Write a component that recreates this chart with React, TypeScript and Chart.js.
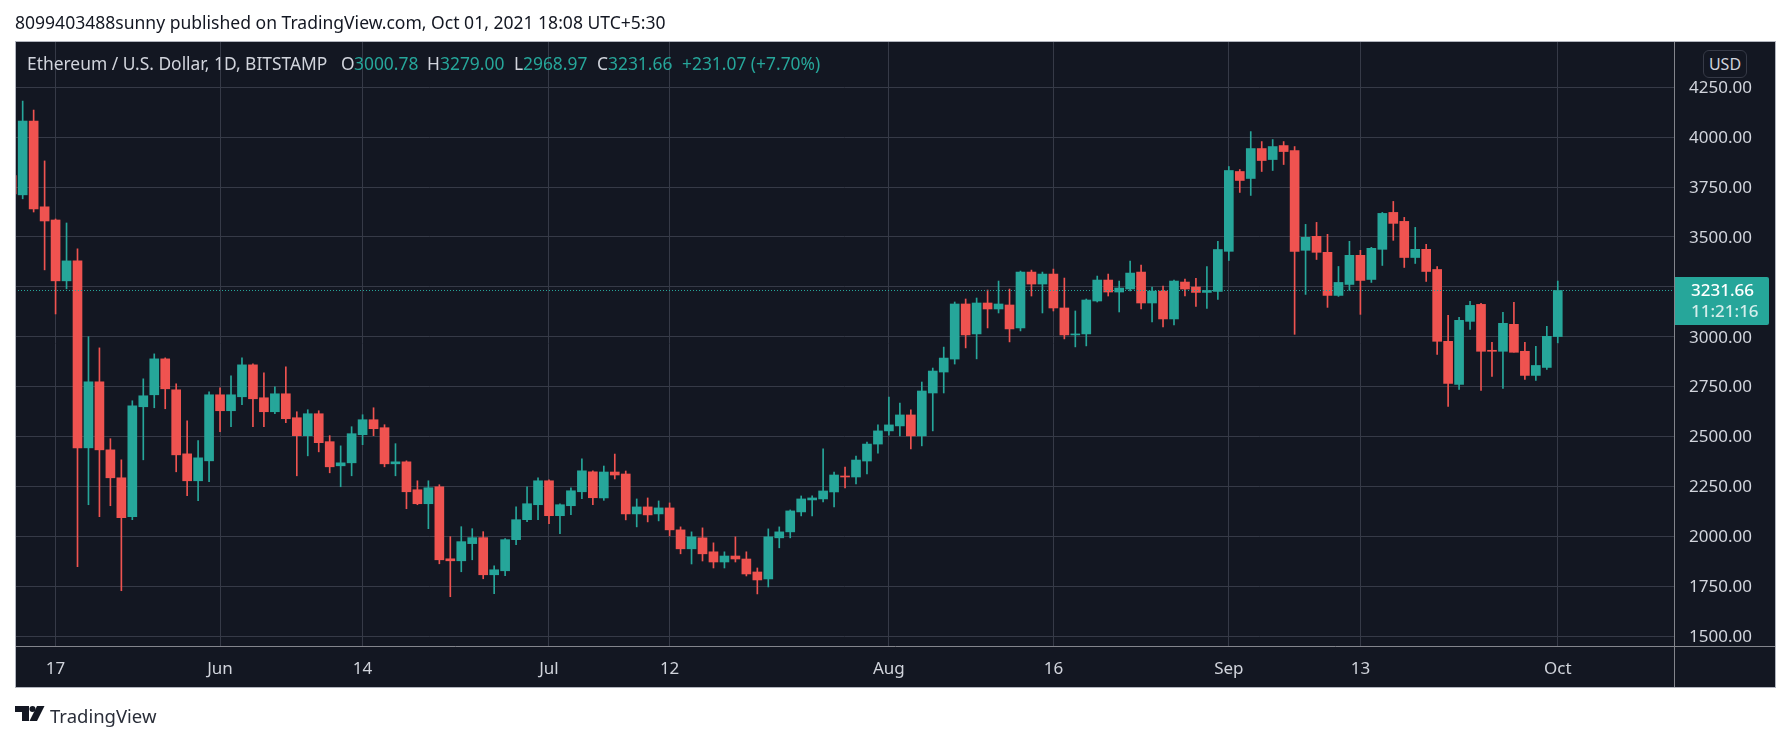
import React, { useEffect, useRef } from 'react'
import { Chart, registerables } from 'chart.js'
Chart.register(...registerables)

// days counted from May 17 2021 (first candle is May 13)
const firstDay = -4
const tickDays = [0, 15, 28, 45, 56, 76, 91, 107, 119, 137]
const tickLabels = ['17', 'Jun', '14', 'Jul', '12', 'Aug', '16', 'Sep', '13', 'Oct']
const priceTicks = [1500, 1750, 2000, 2250, 2500, 2750, 3000, 3250, 3500, 3750, 4000, 4250]

const opens = [
  3807, 3711, 4081, 3651, 3585, 3280, 3380, 2443, 2774, 2433, 2293, 2098, 2649, 2709, 2889, 2734, 2413, 2278, 2378,
  2709, 2629, 2699, 2859, 2694, 2624, 2714, 2594, 2504, 2614, 2474, 2353, 2368, 2509, 2584, 2544, 2363, 2373, 2233, 2163, 2248, 1887, 1877, 1963, 1993, 1807, 1827, 1983, 2083, 2158,
  2278, 2103, 2153, 2223, 2323, 2192, 2322, 2312, 2112, 2147, 2112, 2142, 2032, 1937, 1992, 1922, 1871, 1901, 1886, 1821, 1786, 1992, 2022, 2122, 2182, 2187, 2222, 2302, 2297, 2377, 2462,
  2528, 2553, 2608, 2503, 2718, 2823, 2888, 3164, 3014, 3169, 3139, 3159, 3044, 3324, 3264, 3314, 3144, 3009, 3014, 3179, 3284, 3224, 3239, 3324, 3169, 3229, 3089, 3274, 3249, 3222, 3227,
  3428, 3828, 3793, 3943, 3888, 3958, 3933, 3433, 3503, 3423, 3207, 3262, 3408, 3287, 3438, 3623, 3578, 3397, 3438, 3337, 2977, 2761, 3077, 3162, 2932, 2927, 3062, 2927, 2806, 2846,
  3000.78,
]
const highs = [
  3830, 4181, 4136, 3881, 3590, 3570, 3440, 3000, 2944, 2489, 2383, 2679, 2789, 2914, 2894, 2764, 2579, 2479, 2724,
  2744, 2804, 2894, 2864, 2819, 2749, 2849, 2624, 2634, 2629, 2504, 2453, 2549, 2609, 2644, 2559, 2464, 2378, 2278, 2278, 2258, 1998, 2048, 2038, 2023, 1852, 1988, 2148, 2248, 2293,
  2283, 2163, 2243, 2388, 2328, 2352, 2412, 2327, 2187, 2192, 2177, 2167, 2047, 2022, 2042, 1967, 1922, 1997, 1922, 1841, 2037, 2047, 2132, 2202, 2202, 2438, 2322, 2347, 2402, 2472, 2558,
  2698, 2668, 2633, 2773, 2843, 2948, 3174, 3189, 3194, 3234, 3279, 3239, 3329, 3334, 3324, 3339, 3294, 3129, 3189, 3304, 3314, 3279, 3379, 3359, 3249, 3254, 3284, 3289, 3292, 3352, 3478,
  3853, 3838, 4028, 3978, 3988, 3978, 3953, 3563, 3573, 3513, 3352, 3478, 3433, 3448, 3623, 3678, 3598, 3548, 3463, 3352, 3107, 3097, 3177, 3167, 2972, 3122, 3172, 2972, 2952, 3052,
  3279,
]
const lows = [
  3690, 3691, 3625, 3335, 3114, 3240, 1847, 2158, 2098, 2153, 1727, 2083, 2383, 2644, 2639, 2323, 2203, 2178, 2273,
  2524, 2549, 2659, 2549, 2549, 2614, 2569, 2303, 2403, 2423, 2318, 2248, 2303, 2459, 2504, 2348, 2303, 2138, 2158, 2038, 1862, 1697, 1822, 1882, 1787, 1712, 1802, 1958, 2073, 2083,
  2063, 2013, 2108, 2188, 2158, 2180, 2287, 2082, 2047, 2072, 2077, 2002, 1912, 1861, 1876, 1841, 1841, 1871, 1801, 1711, 1746, 1942, 1992, 2102, 2102, 2172, 2147, 2242, 2262, 2312, 2417,
  2506, 2503, 2438, 2453, 2528, 2718, 2863, 2944, 2889, 3044, 3119, 2974, 3029, 3204, 3119, 3129, 2989, 2949, 2954, 3174, 3204, 3124, 3229, 3139, 3074, 3049, 3059, 3204, 3152, 3142, 3187,
  3382, 3723, 3708, 3828, 3833, 3863, 3012, 3212, 3387, 3147, 3202, 3232, 3112, 3272, 3357, 3483, 3347, 3367, 3277, 2911, 2651, 2736, 3037, 2731, 2801, 2741, 2922, 2786, 2781, 2836,
  2968.97,
]
const closes = [
  3716, 4081, 3640, 3580, 3280, 3380, 2443, 2774, 2433, 2293, 2093, 2654, 2704, 2889, 2739, 2408, 2278, 2393, 2709,
  2629, 2709, 2859, 2689, 2624, 2714, 2589, 2504, 2614, 2469, 2348, 2368, 2514, 2584, 2539, 2363, 2373, 2223, 2163, 2243, 1882, 1877, 1973, 1993, 1807, 1832, 1983, 2083, 2163, 2278,
  2103, 2158, 2228, 2328, 2193, 2322, 2307, 2112, 2147, 2107, 2142, 2032, 1937, 1997, 1912, 1871, 1901, 1886, 1811, 1781, 1997, 2022, 2127, 2187, 2192, 2227, 2307, 2297, 2382, 2462, 2528,
  2558, 2608, 2503, 2728, 2828, 2893, 3164, 3009, 3169, 3139, 3164, 3039, 3324, 3264, 3314, 3144, 3009, 3014, 3184, 3284, 3224, 3244, 3319, 3169, 3229, 3089, 3279, 3239, 3222, 3232, 3437,
  3833, 3783, 3943, 3883, 3953, 3928, 3428, 3498, 3423, 3207, 3272, 3408, 3282, 3443, 3618, 3568, 3397, 3438, 3327, 2977, 2766, 3082, 3157, 2927, 2927, 3067, 2922, 2806, 2856, 3002,
  3231.66,
]

const upColor = '#26a69a'
const downColor = '#ef5350'
const panelColor = '#131722'
const gridColor = '#363a47'
const textColor = '#d1d4dc'
const font = '"Noto Sans", sans-serif'

const xs = opens.map((_, i) => firstDay + i)
const candleColors = opens.map((o, i) => (closes[i] >= o ? upColor : downColor))
const lastClose = closes[closes.length - 1]

const panelPlugin = {
  id: 'panel',
  beforeDraw(chart: any) {
    const { ctx } = chart
    ctx.save()
    ctx.fillStyle = panelColor
    ctx.fillRect(15, 41, 1761, 646)
    ctx.restore()
  },
  afterDraw(chart: any) {
    const { ctx, chartArea, scales } = chart
    ctx.save()
    const y = Math.round(scales.y.getPixelForValue(lastClose)) + 0.5

    ctx.strokeStyle = upColor
    ctx.lineWidth = 1
    ctx.setLineDash([1, 2])
    ctx.beginPath()
    ctx.moveTo(chartArea.left, y)
    ctx.lineTo(chartArea.right, y)
    ctx.stroke()
    ctx.setLineDash([])

    // axis lines and the outer frame
    ctx.strokeStyle = '#83858c'
    ctx.beginPath()
    ctx.moveTo(chartArea.right + 0.5, 41)
    ctx.lineTo(chartArea.right + 0.5, 687)
    ctx.moveTo(15, chartArea.bottom + 0.5)
    ctx.lineTo(1776, chartArea.bottom + 0.5)
    ctx.stroke()
    ctx.strokeStyle = '#b2b5be'
    ctx.strokeRect(15.5, 41.5, 1760, 646)

    // last price tag
    ctx.fillStyle = upColor
    ctx.beginPath()
    ctx.roundRect(chartArea.right + 1, y - 13.5, 94, 48, [0, 2, 2, 0])
    ctx.fill()
    ctx.textBaseline = 'middle'
    ctx.textAlign = 'left'
    ctx.font = `500 17px ${font}`
    ctx.fillStyle = '#ffffff'
    ctx.fillText(lastClose.toFixed(2), 1691, y + 1)
    ctx.fillStyle = 'rgba(255,255,255,0.8)'
    ctx.fillText('11:21:16', 1691, y + 22)
    ctx.restore()
  },
}

const CandleChart: React.FC = () => {
  const ref = useRef<HTMLCanvasElement | null>(null)
  useEffect(() => {
    if (!ref.current) return
    const chart = new Chart(ref.current, {
      type: 'bar',
      data: {
        datasets: [
          {
            label: 'wick',
            data: xs.map((x, i) => ({ x, y: [lows[i], highs[i]] })),
            backgroundColor: candleColors,
            barThickness: 1,
            grouped: false,
            borderWidth: 0,
          },
          {
            label: 'body',
            data: xs.map((x, i) => ({ x, y: [opens[i], closes[i]] })),
            backgroundColor: candleColors,
            barThickness: 9,
            grouped: false,
            borderWidth: 0,
          },
        ] as any,
      },
      options: {
        animation: false,
        responsive: false,
        devicePixelRatio: 1,
        layout: { padding: { left: 15, top: 41, right: 15, bottom: 54 } },
        plugins: { legend: { display: false }, tooltip: { enabled: false } },
        scales: {
          x: {
            type: 'linear',
            offset: false,
            min: -3.7,
            max: 147.6,
            afterBuildTicks: (scale: any) => {
              scale.ticks = tickDays.map((value) => ({ value }))
            },
            afterFit: (scale: any) => {
              scale.height = 41
            },
            grid: { color: gridColor, drawTicks: false, offset: false },
            border: { display: false },
            ticks: {
              autoSkip: false,
              maxRotation: 0,
              padding: 13,
              color: textColor,
              font: { family: font, size: 17 },
              callback: (value: any) => tickLabels[tickDays.indexOf(value)],
            },
          },
          y: {
            position: 'right',
            min: 1450,
            max: 4482,
            afterBuildTicks: (scale: any) => {
              scale.ticks = priceTicks.map((value) => ({ value }))
            },
            afterFit: (scale: any) => {
              scale.width = 102
            },
            grid: { color: gridColor, drawTicks: false },
            border: { display: false },
            ticks: {
              autoSkip: false,
              padding: 15,
              labelOffset: 1,
              color: textColor,
              font: { family: font, size: 17 },
              callback: (value: any) => Number(value).toFixed(2),
            },
          },
        },
      } as any,
      plugins: [panelPlugin],
    })
    return () => chart.destroy()
  }, [])
  return <canvas ref={ref} width={1791} height={741} style={{ display: 'block', width: 1791, height: 741 }} />
}

const at = (left: number, top: number, color: string, size = 17.4): React.CSSProperties => ({
  position: 'absolute',
  left,
  top,
  color,
  fontFamily: font,
  fontSize: size,
  lineHeight: '20px',
  whiteSpace: 'nowrap',
})

const legendY = 53

export default function App() {
  return (
    <div style={{ position: 'absolute', left: 0, top: 0, width: 1791, height: 741, background: '#fff', overflow: 'hidden' }}>
      <CandleChart />
      <div style={at(15, 12, '#131722', 17.55)}>8099403488sunny published on TradingView.com, Oct 01, 2021 18:08 UTC+5:30</div>
      <div style={at(27, legendY, textColor)}>Ethereum / U.S. Dollar, 1D, BITSTAMP</div>
      <div style={at(341, legendY, textColor)}>O</div>
      <div style={at(354, legendY, upColor)}>3000.78</div>
      <div style={at(427, legendY, textColor)}>H</div>
      <div style={at(440, legendY, upColor)}>3279.00</div>
      <div style={at(514, legendY, textColor)}>L</div>
      <div style={at(523, legendY, upColor)}>2968.97</div>
      <div style={at(597, legendY, textColor)}>C</div>
      <div style={at(608, legendY, upColor)}>3231.66</div>
      <div style={at(682, legendY, upColor)}>+231.07 (+7.70%)</div>
      <div style={{ ...at(1703, 50, textColor, 16), width: 44, height: 28, lineHeight: '27px', textAlign: 'center', border: '1px solid #363a47', borderRadius: 6, boxSizing: 'border-box', background: panelColor }}>USD</div>
      <svg style={{ position: 'absolute', left: 15, top: 706 }} width={30} height={15} viewBox="0 0 30 15">
        <path d="M0 0H14V15H7V6H0Z" fill="#131722" />
        <circle cx={17.5} cy={3} r={3} fill="#131722" />
        <path d="M22 0H29.5L22 15H14.5Z" fill="#131722" />
      </svg>
      <div style={{ ...at(50, 704, '#2a2e39', 18.5), lineHeight: '24px' }}>TradingView</div>
    </div>
  )
}
